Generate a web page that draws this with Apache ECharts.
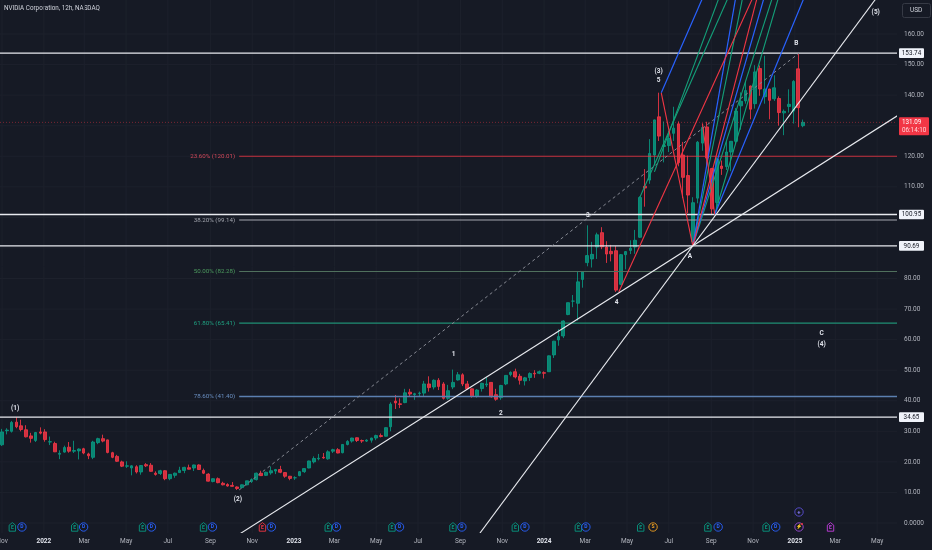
<!DOCTYPE html>
<html><head><meta charset="utf-8">
<script src="https://cdn.jsdelivr.net/npm/echarts@6/dist/echarts.min.js"></script>
<style>html,body{margin:0;padding:0;background:#161a25;}#c{width:932px;height:550px;}</style>
</head><body><div id="c"></div>
<script>
// ---------- DATA ----------
const title = 'NVIDIA Corporation, 12h, NASDAQ';
const currency = 'USD';
// weekly candles: [week, open, close, low, high]
const candles = [
['2021-10-25',24.4,25.6,24.0,25.7],
['2021-11-01',25.6,29.8,25.2,30.8],['2021-11-08',30.2,30.4,29.0,31.0],['2021-11-15',30.0,32.9,29.6,33.4],
['2021-11-22',33.0,31.5,31.0,34.6],['2021-11-29',31.8,30.6,30.0,33.8],['2021-12-06',30.5,28.2,28.0,32.0],
['2021-12-13',28.5,27.7,26.3,29.5],['2021-12-20',27.0,29.6,26.5,29.8],['2021-12-27',29.8,29.4,29.0,31.3],
['2022-01-03',29.8,27.3,26.6,30.7],['2022-01-10',26.5,26.6,25.5,28.3],['2022-01-17',26.0,23.3,23.2,26.6],
['2022-01-24',22.5,22.8,20.9,23.8],['2022-01-31',23.2,24.7,23.0,25.3],['2022-02-07',24.8,23.5,23.0,26.5],
['2022-02-14',23.5,23.7,22.9,26.9],['2022-02-21',23.6,24.2,20.8,24.4],['2022-02-28',24.3,22.9,22.5,24.6],
['2022-03-07',22.6,22.0,20.9,23.0],['2022-03-14',21.5,26.5,20.9,26.9],['2022-03-21',26.3,27.6,25.8,27.9],
['2022-03-28',27.6,26.8,26.4,28.9],['2022-04-04',27.2,23.1,22.8,27.3],['2022-04-11',23.0,21.5,21.2,23.3],
['2022-04-18',21.8,20.2,20.0,22.3],['2022-04-25',20.0,18.6,18.3,20.4],['2022-05-02',18.6,18.7,18.0,20.2],
['2022-05-09',18.0,18.7,15.6,18.9],['2022-05-16',18.4,16.7,16.2,18.9],['2022-05-23',16.7,18.8,15.8,18.9],
['2022-05-30',19.1,18.7,18.3,19.6],['2022-06-06',18.9,16.9,16.8,19.6],['2022-06-13',16.3,15.9,15.5,16.9],
['2022-06-20',16.2,17.1,15.7,17.4],['2022-06-27',17.1,14.5,14.0,17.3],['2022-07-04',14.5,15.9,14.0,16.0],
['2022-07-11',15.6,16.3,14.8,16.5],['2022-07-18',16.5,17.3,16.4,18.4],['2022-07-25',17.2,18.2,16.3,18.4],
['2022-08-01',18.1,17.6,17.5,19.1],['2022-08-08',18.0,19.0,17.0,19.1],['2022-08-15',19.0,17.5,17.4,19.2],
['2022-08-22',17.2,16.3,16.0,17.8],['2022-08-29',16.0,13.7,13.6,16.3],['2022-09-05',13.6,14.5,13.3,14.6],
['2022-09-12',14.5,13.2,13.0,14.9],['2022-09-19',13.0,12.5,12.3,13.5],['2022-09-26',12.6,12.1,11.9,13.0],
['2022-10-03',12.3,12.0,11.9,13.4],['2022-10-10',11.8,11.3,10.81,12.0],['2022-10-17',11.6,12.5,11.3,12.6],
['2022-10-24',12.5,13.8,12.3,13.8],['2022-10-31',13.6,14.2,13.1,14.6],['2022-11-07',14.2,16.3,13.9,16.5],
['2022-11-14',16.3,15.5,15.4,17.1],['2022-11-21',15.6,16.6,15.4,16.8],['2022-11-28',16.4,17.1,15.8,18.5],
['2022-12-05',17.0,17.5,16.0,17.7],['2022-12-12',17.5,16.6,16.3,18.7],['2022-12-19',16.5,15.3,14.8,16.6],
['2022-12-26',15.3,14.6,14.0,15.4],
['2023-01-02',14.8,14.8,14.1,15.3],['2023-01-09',15.5,16.8,15.3,17.0],['2023-01-16',16.8,17.8,16.4,17.9],
['2023-01-23',18.0,20.3,17.9,20.4],['2023-01-30',20.0,21.1,19.5,21.8],['2023-02-06',21.0,21.2,20.5,22.6],
['2023-02-13',21.5,21.3,21.0,22.9],['2023-02-20',21.0,23.3,20.7,23.8],['2023-02-27',23.5,24.0,22.9,24.3],
['2023-03-06',24.0,22.9,22.8,24.5],['2023-03-13',23.0,25.7,22.8,25.8],['2023-03-20',25.7,26.7,25.4,27.1],
['2023-03-27',26.8,27.8,26.3,27.9],['2023-04-03',27.9,27.0,26.5,28.0],['2023-04-10',27.0,26.8,26.2,27.3],
['2023-04-17',26.8,27.1,26.5,27.4],['2023-04-24',27.1,27.8,26.3,27.9],['2023-05-01',27.8,28.6,27.1,28.9],
['2023-05-08',28.6,28.3,28.0,29.3],['2023-05-15',28.4,31.2,28.3,31.3],['2023-05-22',31.5,38.9,30.0,39.5],
['2023-05-29',39.9,39.3,37.3,41.9],['2023-06-05',39.0,38.8,37.6,40.8],['2023-06-12',39.4,42.6,39.2,43.9],
['2023-06-19',42.8,42.2,41.5,43.9],['2023-06-26',42.0,42.3,40.3,42.6],['2023-07-03',42.4,42.5,41.2,43.0],
['2023-07-10',42.5,45.5,41.4,46.5],['2023-07-17',45.5,44.3,43.0,48.0],['2023-07-24',44.5,46.7,43.7,47.0],
['2023-07-31',46.7,44.7,43.5,47.4],['2023-08-07',45.5,40.8,40.4,46.1],['2023-08-14',40.8,43.3,40.3,45.2],
['2023-08-21',44.5,46.0,43.8,50.2],['2023-08-28',46.8,48.5,46.6,49.4],['2023-09-04',48.5,45.5,44.8,49.0],
['2023-09-11',45.5,43.9,43.8,46.5],['2023-09-18',43.9,41.6,41.0,44.0],['2023-09-25',41.6,43.5,41.0,43.8],
['2023-10-02',44.0,45.7,43.0,45.9],['2023-10-09',45.2,45.5,44.5,47.7],['2023-10-16',46.0,41.3,41.0,46.1],
['2023-10-23',42.0,40.5,40.0,43.9],['2023-10-30',41.0,45.0,40.3,45.2],['2023-11-06',45.5,48.3,45.1,48.4],
['2023-11-13',48.6,49.3,48.0,49.6],['2023-11-20',49.5,47.8,47.3,50.5],['2023-11-27',48.0,46.7,45.3,48.8],
['2023-12-04',46.5,47.5,45.0,47.8],['2023-12-11',47.6,48.9,46.5,49.3],['2023-12-18',49.0,48.8,47.5,50.0],
['2023-12-25',49.0,49.5,48.7,49.9],
['2024-01-01',49.2,49.0,47.3,49.6],['2024-01-08',49.5,54.7,49.5,54.8],['2024-01-15',55.0,59.5,54.0,59.6],
['2024-01-22',59.9,61.0,58.0,63.4],['2024-01-29',61.2,66.1,60.5,66.3],['2024-02-05',68.2,72.1,68.0,72.1],
['2024-02-12',72.6,72.6,70.6,74.6],['2024-02-19',71.9,78.9,66.2,82.3],['2024-02-26',79.7,82.2,77.0,82.4],
['2024-03-04',85.2,87.5,84.0,97.4],['2024-03-11',86.4,87.9,83.6,92.0],['2024-03-18',90.3,94.3,86.4,95.0],
['2024-03-25',95.0,90.4,89.6,96.8],['2024-04-01',90.3,88.0,85.1,92.2],['2024-04-08',88.9,88.1,85.6,91.0],
['2024-04-15',89.1,76.2,75.6,90.6],['2024-04-22',78.1,87.8,77.8,88.0],['2024-04-29',87.8,88.8,83.0,89.0],
['2024-05-06',89.2,89.9,88.0,92.5],['2024-05-13',90.3,92.5,88.1,95.9],['2024-05-20',93.5,106.5,93.3,106.9],
['2024-05-27',110.2,109.6,103.5,115.8],['2024-06-03',112.2,120.9,111.0,125.6],['2024-06-10',120.4,131.9,117.0,132.0],
['2024-06-17',132.9,126.6,125.0,140.8],['2024-06-24',123.2,123.5,118.0,131.4],['2024-07-01',123.5,125.8,121.4,128.3],
['2024-07-08',127.5,129.2,125.0,136.2],['2024-07-15',130.6,117.9,116.7,131.4],['2024-07-22',120.4,113.1,106.3,124.7],
['2024-07-29',113.7,107.3,101.4,120.2],['2024-08-05',92.1,104.8,90.69,106.6],['2024-08-12',106.3,124.6,104.6,125.0],
['2024-08-19',124.3,129.4,121.8,130.0],['2024-08-26',129.6,119.4,116.7,131.3],['2024-09-02',116.0,102.8,100.95,116.2],
['2024-09-09',104.9,119.1,103.1,119.7],['2024-09-16',116.8,116.0,113.9,118.6],['2024-09-23',116.6,121.4,115.5,124.9],
['2024-09-30',121.4,124.9,115.1,125.0],['2024-10-07',124.9,134.8,124.0,135.8],['2024-10-14',136.5,138.0,128.7,140.9],
['2024-10-21',138.1,141.5,137.2,144.4],['2024-10-28',143.0,135.4,132.1,143.1],['2024-11-04',137.2,147.6,135.6,149.8],
['2024-11-11',148.7,142.0,139.8,149.7],['2024-11-18',139.5,142.0,137.2,152.9],['2024-11-25',142.0,138.3,132.1,142.1],
['2024-12-02',138.8,142.4,138.1,146.5],['2024-12-09',138.9,134.3,130.0,139.6],['2024-12-16',134.2,134.7,126.9,135.3],
['2024-12-23',136.3,137.0,134.3,141.9],['2024-12-30',134.8,144.5,130.7,144.9],['2025-01-06',148.6,135.9,129.5,153.7],
['2025-01-13',130.0,131.09,129.5,132.0]
];
const lastPrice = 131.09;
const countdown = '06:14:10';
const priceTicks = [0,10,20,30,40,50,60,70,80,90,100,110,120,130,140,150,160];
const timeTicks = ['2021-11-01','2022-01-01','2022-03-01','2022-05-01','2022-07-01','2022-09-01','2022-11-01',
 '2023-01-01','2023-03-01','2023-05-01','2023-07-01','2023-09-01','2023-11-01',
 '2024-01-01','2024-03-01','2024-05-01','2024-07-01','2024-09-01','2024-11-01',
 '2025-01-01','2025-03-01','2025-05-01'];
const keyLevels = [153.74, 100.95, 90.69, 34.65];
const fibStart = '2022-10-13';
const fibPercents = ['23.60%','38.20%','50.00%','61.80%','78.60%'];
const fibValues = [120.01, 99.14, 82.28, 65.41, 41.40];
// trend lines as pairs of [date, price] anchors
const whiteRays = [
 [['2022-10-01',-5.4],['2024-08-05',90.69]],
 [['2023-09-01',-11.9],['2024-08-05',90.69]]
];
const dashedSegments = [[['2022-10-13',10.81],['2025-01-07',153.74]]];
const redSegments = [
 [['2024-06-20',140.76],['2024-08-05',90.69]],
 [['2024-08-19',130.75],['2024-09-06',100.95]]
];
const redRays = [
 [['2024-04-19',75.61],['2024-10-30',171.1]],
 [['2024-08-05',90.69],['2024-11-06',171.1]]
];
const blueRays = [
 [['2024-06-20',140.76],['2024-08-18',171.1]],
 [['2024-08-05',90.69],['2024-10-06',171.1]],
 [['2024-08-05',90.69],['2024-11-16',171.1]],
 [['2024-09-06',100.95],['2025-01-13',171.1]]
];
const greenRays = [
 [['2024-06-10',114.9],['2024-09-11',171.1]],
 [['2024-05-20',106.7],['2024-09-24',171.1]],
 [['2024-08-05',90.69],['2024-10-16',171.1]],
 [['2024-08-05',90.69],['2024-11-28',171.1]],
 [['2024-09-06',100.95],['2024-12-07',171.1]]
];
const waveLabels = [
 ['2021-11-20',37.6,'(1)'],['2022-10-11',7.85,'(2)'],['2023-08-22',55.3,'1'],['2023-10-30',36.0,'2'],
 ['2024-03-05',100.8,'3'],['2024-04-16',72.3,'4'],['2024-06-16',147.8,'(3)'],['2024-06-16',144.8,'5'],
 ['2024-08-01',87.4,'A'],['2025-01-03',157.1,'B'],['2025-02-09',62.2,'C'],['2025-02-09',58.6,'(4)'],
 ['2025-04-29',167.0,'(5)']
];
const earningsDates = ['2021-11-16','2022-02-15','2022-05-25','2022-08-22','2023-02-20','2023-05-24','2023-08-21','2023-11-20','2024-02-20','2024-05-21','2024-08-27','2024-11-20'];
const earningsMissDates = ['2022-11-16'];
const upcomingEarnings = ['2025-02-22'];
const dividendDates = ['2021-11-30','2022-02-28','2022-06-07','2022-09-04','2022-11-29','2023-03-04','2023-06-04','2023-09-03','2023-12-04','2024-03-02','2024-09-11','2024-12-04'];
const splitDates = ['2024-06-08'];
const newsDates = ['2025-01-07'];

// ---------- CHART ----------
const months = ['Jan','Feb','Mar','Apr','May','Jun','Jul','Aug','Sep','Oct','Nov','Dec'];
const toTs = s => { const p = s.split('-').map(Number); return new Date(p[0], p[1]-1, p[2]).getTime(); };
const xMin = toTs('2021-10-29'), xMax = toTs('2025-05-30');
const yMin = -3.27, yMax = 171.13;
const FONT = 'Roboto, "Noto Sans", sans-serif';
const UP = '#089981', DOWN = '#f23645';

const specs = [];
priceTicks.forEach(v => specs.push({k:'hgrid', v}));
timeTicks.forEach(d => specs.push({k:'vgrid', d}));
specs.push({k:'hline', v:lastPrice, c:'rgba(242,54,69,0.45)', w:1, dash:[1,2]});
const fibLine = ['rgba(242,54,69,0.8)','#a3a6af','#50705d','#1f8f75','#5b7fb0'];
const fibText = ['#d0485a','#a3a6af','#4c9a5e','#1fa080','#6a8fc2'];
fibValues.forEach((v,i) => specs.push({k:'fib', d:fibStart, v, c:fibLine[i], tc:fibText[i], w:i===4?1.6:1.1,
  text: fibPercents[i] + ' (' + v.toFixed(2) + ')'}));
keyLevels.forEach(v => specs.push({k:'hline', v, c:'#e8eaef', w:1.4}));
dashedSegments.forEach(s => specs.push({k:'seg', a:s[0], b:s[1], c:'#868993', w:1, dash:[3,3]}));
greenRays.forEach(s => specs.push({k:'ray', a:s[0], b:s[1], c:'#14a17a', w:1.1}));
blueRays.forEach(s => specs.push({k:'ray', a:s[0], b:s[1], c:'#2962ff', w:1.2}));
redRays.forEach(s => specs.push({k:'ray', a:s[0], b:s[1], c:'#f23645', w:1.1}));
redSegments.forEach(s => specs.push({k:'seg', a:s[0], b:s[1], c:'#f23645', w:1.1}));
whiteRays.forEach(s => specs.push({k:'ray', a:s[0], b:s[1], c:'#e8eaef', w:1.1}));
waveLabels.forEach(l => specs.push({k:'text', d:l[0], v:l[1], text:l[2]}));
earningsDates.forEach(d => specs.push({k:'icon', d, shape:'E', c:'#089981'}));
earningsMissDates.forEach(d => specs.push({k:'icon', d, shape:'E', c:'#f23645'}));
upcomingEarnings.forEach(d => specs.push({k:'icon', d, shape:'E', c:'#c43ee0'}));
dividendDates.forEach(d => specs.push({k:'icon', d, shape:'D', c:'#2962ff'}));
splitDates.forEach(d => specs.push({k:'icon', d, shape:'S', c:'#f0a020'}));
newsDates.forEach(d => specs.push({k:'icon', d, shape:'N', c:'#9c4dd8'}));

function lineEl(a, b, c, w, dash){
  const style = {stroke:c, lineWidth:w};
  if (dash) style.lineDash = dash;
  return {type:'line', silent:true, shape:{x1:a[0], y1:a[1], x2:b[0], y2:b[1]}, style};
}
function textEl(x, y, text, fill, font, align, valign){
  return {type:'text', silent:true, x, y, style:{text, fill, font, align:align||'center', verticalAlign:valign||'middle'}};
}
function renderDraw(params, api){
  const s = specs[params.dataIndex];
  const cs = params.coordSys;
  const right = cs.x + cs.width;
  const P = (d, v) => api.coord([toTs(d), v]);
  if (s.k === 'hgrid'){ const y = api.coord([xMin, s.v])[1]; return lineEl([cs.x,y],[right,y],'#1d212c',1); }
  if (s.k === 'vgrid'){ const x = api.coord([toTs(s.d), 0])[0]; return lineEl([x,cs.y],[x,cs.y+cs.height],'#1d212c',1); }
  if (s.k === 'hline'){ const y = api.coord([xMin, s.v])[1]; return lineEl([cs.x,y],[right,y],s.c,s.w,s.dash); }
  if (s.k === 'fib'){
    const p = P(s.d, s.v);
    return {type:'group', children:[
      lineEl([p[0],p[1]],[right,p[1]], s.c, s.w),
      textEl(p[0]-4, p[1], s.text, s.tc, '6.2px ' + FONT, 'right', 'middle')
    ]};
  }
  if (s.k === 'seg') return lineEl(P(s.a[0],s.a[1]), P(s.b[0],s.b[1]), s.c, s.w, s.dash);
  if (s.k === 'ray'){
    const p = P(s.a[0],s.a[1]), q = P(s.b[0],s.b[1]);
    const dx = q[0]-p[0], dy = q[1]-p[1], f = 3000/Math.hypot(dx,dy);
    return lineEl(p, [p[0]+dx*f, p[1]+dy*f], s.c, s.w);
  }
  if (s.k === 'text'){ const p = P(s.d, s.v); return textEl(p[0], p[1], s.text, '#e0e3eb', 'bold 6.5px ' + FONT); }
  if (s.k === 'icon'){
    const x = api.coord([toTs(s.d), 0])[0], y = cs.y + cs.height - 6;
    const kids = [];
    if (s.shape === 'E'){
      kids.push({type:'polygon', silent:true, shape:{points:[[x-3.2,y+4.2],[x-3.2,y-1.8],[x,y-4.4],[x+3.2,y-1.8],[x+3.2,y+4.2]]},
        style:{fill:'#161a25', stroke:s.c, lineWidth:0.9}});
      kids.push(textEl(x, y+0.8, 'E', s.c, 'bold 5px ' + FONT));
    } else if (s.shape === 'N'){
      kids.push({type:'circle', silent:true, shape:{cx:x, cy:y, r:4.2}, style:{fill:'#161a25', stroke:s.c, lineWidth:0.9}});
      kids.push(textEl(x, y, '⚡', s.c, '5px ' + FONT));
      kids.push({type:'circle', silent:true, shape:{cx:x+3, cy:y-3, r:1}, style:{fill:'#f23645'}});
      kids.push({type:'circle', silent:true, shape:{cx:x, cy:y-15, r:4.2}, style:{fill:'#161a25', stroke:'#5b4fd6', lineWidth:0.9}});
      kids.push(textEl(x, y-15, '+', '#8e84ff', 'bold 6px ' + FONT));
    } else {
      kids.push({type:'circle', silent:true, shape:{cx:x, cy:y, r:4.2}, style:{fill:'#161a25', stroke:s.c, lineWidth:0.9}});
      kids.push(textEl(x, y, s.shape, s.c, 'bold 5px ' + FONT));
    }
    return {type:'group', children:kids};
  }
  return null;
}

const tags = keyLevels.map(v => ({v, text:v.toFixed(2), bg:'#f0f3fa', fg:'#131722'}));
function renderOverlay(params, api){
  const cs = params.coordSys;
  const x0 = cs.x + cs.width + 2;
  const kids = [];
  timeTicks.forEach(d => {
    const t = toTs(d), dt = new Date(t), x = api.coord([t, 0])[0];
    const isYear = dt.getMonth() === 0;
    kids.push(textEl(x, cs.y + cs.height + 8.5, isYear ? String(dt.getFullYear()) : months[dt.getMonth()],
      isYear ? '#e0e3eb' : '#b2b5be', (isYear ? 'bold ' : '') + '6.5px ' + FONT));
  });
  priceTicks.forEach(v => {
    const y = api.coord([xMin, v])[1];
    kids.push(textEl(x0 + 5, y, v === 0 ? '0.0000' : v.toFixed(2), '#b2b5be', '6.5px ' + FONT, 'left'));
  });
  tags.forEach(t => {
    const y = api.coord([xMin, t.v])[1];
    kids.push({type:'rect', silent:true, shape:{x:x0, y:y-4.8, width:25, height:9.6, r:1}, style:{fill:t.bg}});
    kids.push(textEl(x0+12.5, y+0.2, t.text, t.fg, '6.3px ' + FONT));
  });
  const yp = api.coord([xMin, lastPrice])[1];
  kids.push({type:'rect', silent:true, shape:{x:x0, y:yp-5, width:30, height:18, r:1}, style:{fill:'#f23645'}});
  kids.push(textEl(x0+3, yp, lastPrice.toFixed(2), '#ffffff', '6.3px ' + FONT, 'left'));
  kids.push(textEl(x0+3, yp+8, countdown, '#ffd6da', '6.3px ' + FONT, 'left'));
  return {type:'group', children:kids};
}

const chart = echarts.init(document.getElementById('c'));
chart.setOption({
  animation:false,
  backgroundColor:'#161a25',
  grid:{left:0, right:35, top:0, bottom:17},
  graphic:[
    {type:'text', left:4, top:5, style:{text:title, fill:'#d1d4dc', font:'6.3px ' + FONT}},
    {type:'rect', left:902, top:3, shape:{width:28, height:14, r:2}, style:{fill:'#161a25', stroke:'#363a45', lineWidth:1}},
    {type:'text', left:910, top:7, style:{text:currency, fill:'#d1d4dc', font:'6.5px ' + FONT}}
  ],
  xAxis:{type:'time', min:xMin, max:xMax,
    axisLine:{show:false}, axisTick:{show:false}, splitLine:{show:false}, axisLabel:{show:false}
  },
  yAxis:{type:'value', position:'right', min:yMin, max:yMax, scale:true,
    axisLine:{show:false}, axisTick:{show:false}, splitLine:{show:false}, axisLabel:{show:false}
  },
  series:[
    {type:'custom', name:'grid', clip:true, z:1, renderItem:(p,api)=>{ const s=specs[p.dataIndex]; return (s.k==='hgrid'||s.k==='vgrid') ? renderDraw(p,api) : null; },
      data: specs.map((s,i)=>[xMin, 0, i]), encode:{x:0, y:1}},
    {type:'candlestick', z:3, barWidth:3.2, clip:true,
      data: candles.map(r => [toTs(r[0]), r[1], r[2], r[3], r[4]]), encode:{x:0, y:[1,2,3,4]},
      itemStyle:{color:UP, color0:DOWN, borderColor:UP, borderColor0:DOWN, borderWidth:1, opacity:0.85}},
    {type:'custom', name:'drawings', clip:true, z:5, renderItem:(p,api)=>{ const s=specs[p.dataIndex]; return (s.k==='hgrid'||s.k==='vgrid') ? null : renderDraw(p,api); },
      data: specs.map((s,i)=>[xMin, 0, i]), encode:{x:0, y:1}},
    {type:'custom', name:'overlay', clip:false, z:10, renderItem:renderOverlay, data:[[xMin,0]], encode:{x:0, y:1}}
  ]
});
</script>
</body></html>
